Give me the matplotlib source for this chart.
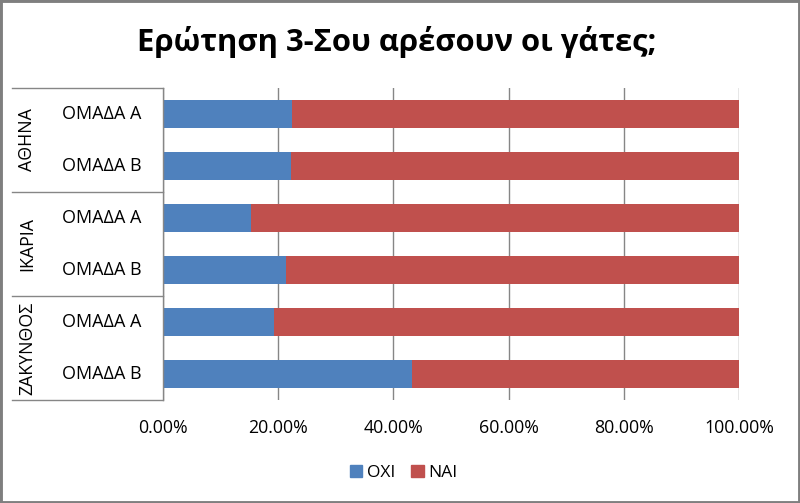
import matplotlib
matplotlib.use("Agg")
import matplotlib.pyplot as plt
import matplotlib.transforms as mtransforms
from matplotlib.patches import Rectangle, Patch

plt.rcParams['font.family'] = ['Open Sans', 'DejaVu Sans']

title = "Ερώτηση 3-Σου αρέσουν οι γάτες;"
groups = ["ΑΘΗΝΑ", "ΙΚΑΡΙΑ", "ΖΑΚΥΝΘΟΣ"]
teams = ["ΟΜΑΔΑ Α", "ΟΜΑΔΑ Β"]
oxi = [22.4, 22.2, 15.3, 21.4, 19.2, 43.2]
nai = [77.6, 77.8, 84.7, 78.6, 80.8, 56.8]
series_names = ["ΟΧΙ", "ΝΑΙ"]
xticks = [0, 20, 40, 60, 80, 100]

blue = "#4F81BD"
red = "#C0504D"
grid = "#868686"

fig = plt.figure(figsize=(8, 5.03), dpi=100)
W, H = 800, 503
# plot area in pixels: x 163..739, y 88..400
ax = fig.add_axes([163 / W, 1 - 400 / H, 576 / W, 312 / H])

n = len(oxi)
ypos = [i + 0.5 for i in range(n)]
ax.barh(ypos, oxi, height=0.55, color=blue, label=series_names[0])
ax.barh(ypos, nai, left=oxi, height=0.55, color=red, label=series_names[1])

ax.set_xlim(0, 100)
ax.set_ylim(n, 0)
ax.set_xticks(xticks)
ax.set_xticklabels([f"{v:.2f}%" for v in xticks], fontsize=12.8)
ax.tick_params(axis='x', length=0, pad=14)
ax.set_yticks([])
ax.grid(axis='x', color=grid, linewidth=1)
ax.set_axisbelow(True)
for s in ['top', 'right', 'bottom']:
    ax.spines[s].set_visible(False)
ax.spines['left'].set_color(grid)
ax.spines['left'].set_linewidth(1)

# category labels and group brackets
trans = mtransforms.blended_transform_factory(ax.transAxes, ax.transData)
x_line = (12 - 163) / 576
for g in range(len(groups) + 1):
    y = g * 2
    ax.plot([x_line, 0], [y, y], color=grid, lw=1, transform=trans, clip_on=False)
for g, name in enumerate(groups):
    ax.text((27 - 163) / 576, g * 2 + 1, name, rotation=90, ha='center', va='center',
            fontsize=12.8, transform=trans)
    for t, team in enumerate(teams):
        ax.text((102 - 163) / 576, g * 2 + t + 0.5, team, ha='center', va='center',
                fontsize=13, transform=trans)

fig.text(397 / W, 1 - 42 / H, title, ha='center', va='center', fontsize=22.3, fontweight='bold')

handles = [Patch(color=blue), Patch(color=red)]
fig.legend(handles, series_names, loc='center', bbox_to_anchor=(404 / W, 1 - 473 / H),
           ncol=2, frameon=False, fontsize=12.5, handlelength=0.7, handleheight=0.7,
           handletextpad=0.3, columnspacing=0.9)

# figure border
fig.patches.append(Rectangle((0, 0), 1, 1, transform=fig.transFigure, fill=False,
                             edgecolor="#7f7f7f", linewidth=3.5))

fig.savefig("out.png", dpi=100)
